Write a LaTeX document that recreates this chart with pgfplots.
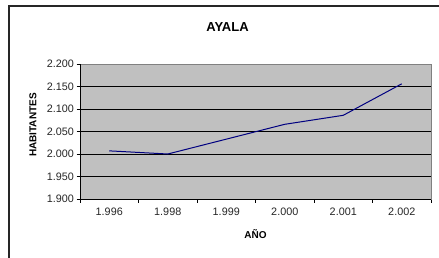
\documentclass[border=0pt]{standalone}
\usepackage{fontspec}
\setmainfont{Liberation Sans}
\usepackage{pgfplots}
\pgfplotsset{compat=1.18}
\definecolor{plotgray}{RGB}{192,192,192}
\definecolor{navyline}{RGB}{0,0,128}
\begin{document}
\begin{tikzpicture}[x=1bp,y=1bp]
\useasboundingbox (0,0) rectangle (439,257);
\fill[white] (0,0) rectangle (439,257);
\draw[line width=1.5bp, black!85] (9,-2) -- (9,251) -- (440,251);
\begin{axis}[
  at={(80bp,58bp)}, anchor=south west,
  scale only axis, width=351bp, height=135bp,
  xmin=-0.5, xmax=5.5, ymin=1900, ymax=2200,
  axis background/.style={fill=plotgray},
  axis line style={draw=gray, line width=0.7bp},
  xtick={-0.5,0.5,...,5.5},
  x tick label as interval,
  xticklabels={1.996,1.998,1.999,2.000,2.001,2.002},
  ytick={1900,1950,...,2200},
  yticklabels={1.900,1.950,2.000,2.050,2.100,2.150,2.200},
  tick align=outside, xtick pos=bottom, ytick pos=left,
  major tick length=3.5bp,
  tick style={black, line width=0.7bp},
  extra y ticks={1950,2000,...,2150},
  extra y tick labels={},
  extra y tick style={grid=major, major tick length=0pt, grid style={black, line width=1bp}},
  tick label style={font=\fontsize{10.8bp}{13bp}\selectfont, text=black!85},
  x tick label style={yshift=-2bp},
  y tick label style={xshift=1bp},
  clip=false,
]
\addplot[navyline, line width=1bp] coordinates {(0,2007) (1,2000) (2,2033) (3,2066) (4,2086) (5,2156)};
\draw[black, line width=0.9bp] (rel axis cs:0,1) -- (rel axis cs:0,0) -- (rel axis cs:1,0);
\end{axis}
\node[font=\bfseries\fontsize{13bp}{15bp}\selectfont] at (227.5,229.5) {AYALA};
\node[rotate=90, font=\bfseries\fontsize{10bp}{12bp}\selectfont] at (33,132) {HABITANTES};
\node[font=\bfseries\fontsize{10bp}{12bp}\selectfont] at (255.5,23) {AÑO};
\end{tikzpicture}
\end{document}
